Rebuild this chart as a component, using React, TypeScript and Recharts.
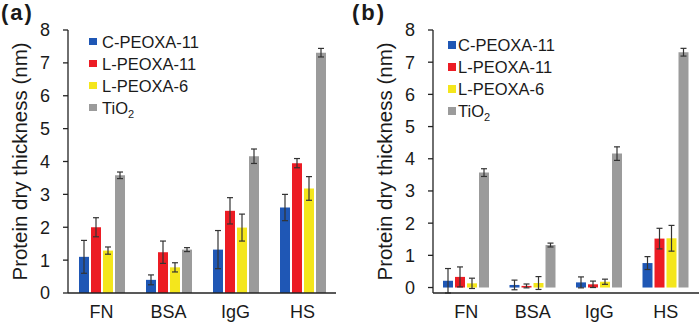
import React from 'react';
import { BarChart, Bar, XAxis, YAxis, ErrorBar } from 'recharts';

const categories = ['FN', 'BSA', 'IgG', 'HS'];
const yTicks = [0, 1, 2, 3, 4, 5, 6, 7, 8];

// Panel (a)
const cPeoxa11A = [1.1, 0.4, 1.32, 2.6];
const cPeoxa11ErrA = [0.5, 0.15, 0.58, 0.4];
const lPeoxa11A = [2.0, 1.24, 2.5, 3.95];
const lPeoxa11ErrA = [0.29, 0.34, 0.4, 0.14];
const lPeoxa6A = [1.29, 0.78, 1.99, 3.18];
const lPeoxa6ErrA = [0.11, 0.14, 0.41, 0.36];
const tio2A = [3.58, 1.32, 4.16, 7.31];
const tio2ErrA = [0.1, 0.06, 0.22, 0.13];

// Panel (b)
const cPeoxa11B = [0.21, 0.08, 0.16, 0.76];
const cPeoxa11ErrB = [0.38, 0.15, 0.17, 0.2];
const lPeoxa11B = [0.33, 0.05, 0.1, 1.52];
const lPeoxa11ErrB = [0.31, 0.06, 0.1, 0.32];
const lPeoxa6B = [0.13, 0.14, 0.18, 1.53];
const lPeoxa6ErrB = [0.16, 0.2, 0.08, 0.4];
const tio2B = [3.57, 1.32, 4.16, 7.31];
const tio2ErrB = [0.12, 0.06, 0.21, 0.12];

const COLORS = ['#1f57b5', '#ec1c24', '#f4e61c', '#9b9b9b'];
const FONT = 'Arial, "Liberation Sans", Helvetica, sans-serif';
const TEXT = '#1a1a1a';

function buildData(c: number[], ce: number[], l: number[], le: number[], s: number[], se: number[], t: number[], te: number[]) {
  return categories.map((name, i) => ({
    name,
    c: c[i], ce: ce[i],
    l: l[i], le: le[i],
    s: s[i], se: se[i],
    t: t[i], te: te[i],
  }));
}

const dataA = buildData(cPeoxa11A, cPeoxa11ErrA, lPeoxa11A, lPeoxa11ErrA, lPeoxa6A, lPeoxa6ErrA, tio2A, tio2ErrA);
const dataB = buildData(cPeoxa11B, cPeoxa11ErrB, lPeoxa11B, lPeoxa11ErrB, lPeoxa6B, lPeoxa6ErrB, tio2B, tio2ErrB);

const legendItems: { label: React.ReactNode; color: string }[] = [
  { label: 'C-PEOXA-11', color: COLORS[0] },
  { label: 'L-PEOXA-11', color: COLORS[1] },
  { label: 'L-PEOXA-6', color: COLORS[2] },
  { label: <span>TiO<sub style={{ fontSize: 11, verticalAlign: -4, lineHeight: 0 }}>2</sub></span>, color: COLORS[3] },
];

function LegendBox({ left, top, gap }: { left: number; top: number; gap: number }) {
  return (
    <div style={{ position: 'absolute', left, top, fontFamily: FONT, fontSize: 16.5, color: TEXT }}>
      {legendItems.map((it, i) => (
        <div key={i} style={{ display: 'flex', alignItems: 'center', height: 22, lineHeight: '22px', whiteSpace: 'nowrap' }}>
          <span style={{ display: 'inline-block', width: 7.5, height: 7.5, background: it.color, marginRight: gap }} />
          <span>{it.label}</span>
        </div>
      ))}
    </div>
  );
}

type PanelProps = {
  data: any[];
  left: number;
  yAxisWidth: number;
  rightMargin: number;
  labelOffset: number;
  legendLeft: number;
  legendTop: number;
  legendGap: number;
  title: string;
  titleLeft: number;
};

function Panel(p: PanelProps) {
  const series = [
    { key: 'c', err: 'ce' },
    { key: 'l', err: 'le' },
    { key: 's', err: 'se' },
    { key: 't', err: 'te' },
  ];
  return (
    <div style={{ position: 'absolute', left: p.left, top: 0, width: 350, height: 323 }}>
      <BarChart
        width={350}
        height={323}
        data={p.data}
        margin={{ top: 30, right: p.rightMargin, bottom: 5, left: 0 }}
        barSize={10}
        barGap={2}
      >
        <XAxis
          dataKey="name"
          height={25}
          tickLine={false}
          tickMargin={6}
          axisLine={{ stroke: '#222', strokeWidth: 1.3 }}
          tick={{ fontSize: 18, fill: TEXT, fontFamily: FONT }}
          interval={0}
        />
        <YAxis
          width={p.yAxisWidth}
          domain={[0, 8]}
          ticks={yTicks}
          interval={0}
          tickSize={5}
          tickMargin={13}
          axisLine={{ stroke: '#222', strokeWidth: 1.3 }}
          tickLine={{ stroke: '#222', strokeWidth: 1.3 }}
          tick={{ fontSize: 18, fill: TEXT, fontFamily: FONT }}
          label={{
            value: 'Protein dry thickness (nm)',
            angle: -90,
            position: 'insideLeft',
            offset: p.labelOffset,
            style: { textAnchor: 'middle', fontSize: 20.5, fill: TEXT, fontFamily: FONT },
          }}
        />
        {series.map((s, i) => (
          <Bar key={s.key} dataKey={s.key} fill={COLORS[i]} isAnimationActive={false}>
            <ErrorBar dataKey={s.err} width={3} stroke="#333" strokeWidth={1.2} direction="y" />
          </Bar>
        ))}
      </BarChart>
      <LegendBox left={p.legendLeft} top={p.legendTop} gap={p.legendGap} />
      <div
        style={{
          position: 'absolute',
          left: p.titleLeft,
          top: 0,
          fontFamily: FONT,
          fontWeight: 'bold',
          fontSize: 22,
          lineHeight: 'normal',
          letterSpacing: 2,
          color: TEXT,
        }}
      >
        {p.title}
      </div>
    </div>
  );
}

export default function App() {
  return (
    <div style={{ position: 'absolute', left: 0, top: 0, width: 700, height: 323, background: '#fff' }}>
      <Panel
        data={dataA}
        left={0}
        yAxisWidth={68}
        rightMargin={14}
        labelOffset={19.5}
        legendLeft={89}
        legendTop={30.5}
        legendGap={5.5}
        title="(a)"
        titleLeft={1}
      />
      <Panel
        data={dataB}
        left={350}
        yAxisWidth={83}
        rightMargin={1}
        labelOffset={34.5}
        legendLeft={98}
        legendTop={34}
        legendGap={2.5}
        title="(b)"
        titleLeft={2}
      />
    </div>
  );
}
